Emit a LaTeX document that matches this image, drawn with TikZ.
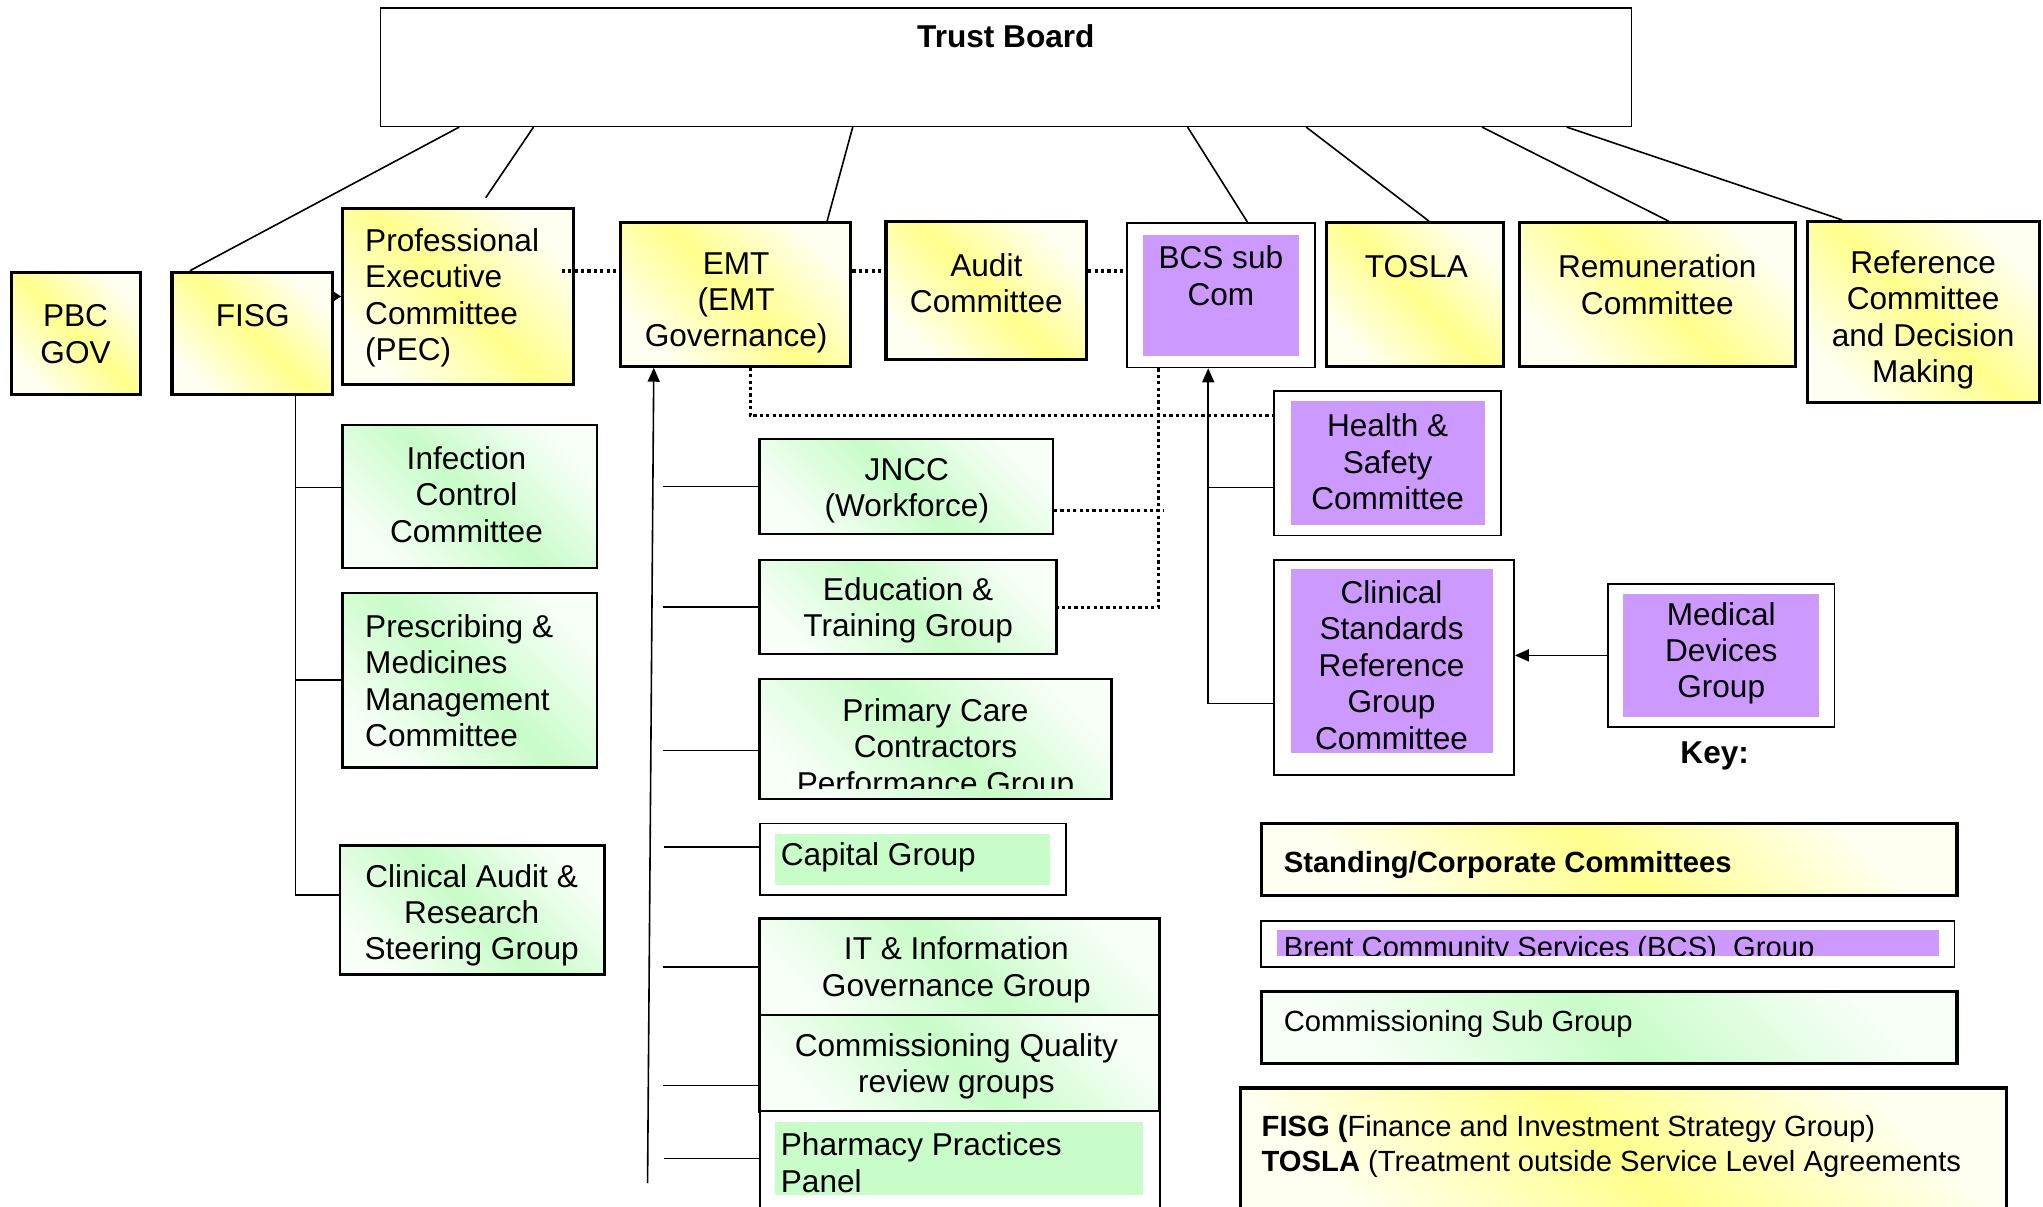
\documentclass[tikz,border=0pt]{standalone}
\usepackage{fontspec}
\setmainfont{Liberation Sans}
\usetikzlibrary{fit,calc,arrows.meta}
\definecolor{ylw}{HTML}{FFFF8C}
\definecolor{grn}{HTML}{C8FCC8}
\definecolor{prp}{HTML}{CC99FF}
\begin{document}
\begin{tikzpicture}[x=0.6515pt,y=-0.6515pt,
  ybox/.style={draw, line width=1.6pt, top color=ylw!12, bottom color=ylw!12, middle color=ylw, shading angle=-45, inner sep=0pt},
  gbox/.style={draw, line width=1.2pt, top color=grn!15, bottom color=grn!15, middle color=grn, shading angle=-45, inner sep=0pt},
  wbox/.style={draw, line width=0.9pt, fill=white, inner sep=0pt},
  pfill/.style={fill=prp, inner sep=0pt},
  gfill/.style={fill=grn, inner sep=0pt},
  txt/.style={font=\fontsize{15.8}{18.2}\selectfont, align=center, inner sep=0pt, yshift=-1.6pt},
  ltxt/.style={txt, align=left},
  btxt/.style={font=\fontsize{15.8}{18.2}\selectfont\bfseries, inner sep=0pt},
  ktxt/.style={font=\fontsize{14.6}{17.2}\selectfont, align=left, inner sep=0pt, yshift=-1.8pt},
  conn/.style={line width=0.8pt},
  dots/.style={line width=1.6pt, dash pattern=on 1.6pt off 1.6pt},
  arr/.style={conn, -{Triangle[length=7pt,width=6pt]}},
]
\useasboundingbox (0,0) rectangle (1568,926);
\clip (0,0) rectangle (1568,926);

% ---------- Trust Board ----------
\node[wbox, line width=0.7pt, fit={(292,6) (1252,97)}] (board) {};
\node[btxt] (board-t) at (772,28) {Trust Board};

% ---------- top row ----------
\node[ybox, fit={(9,209) (108,303)}] (pbc) {};
\node[txt] (pbc-t) at (58,254) {PBC\\GOV};
\node[ybox, fit={(132,209) (255,303)}] (fisg) {};
\node[txt] (fisg-t) at (194,240) {FISG};
\node[ybox, fit={(263,160) (440,295)}] (pec) {};
\node[ltxt, anchor=west] (pec-t) at (280,226) {Professional\\Executive\\Committee\\(PEC)};
\node[ybox, fit={(476,171) (653,281)}] (emt) {};
\node[txt] (emt-t) at (565,230) {EMT\\(EMT\\Governance)};
\node[ybox, fit={(680,170) (834,276)}] (audit) {};
\node[txt] (audit-t) at (757,215) {Audit\\Committee};
\node[wbox, fit={(865,171) (1009,282)}] (bcs) {};
\node[pfill, fit={(877,180) (997,273)}] (bcsfill) {};
\node[txt] (bcs-t) at (937,209) {BCS sub\\Com};
\node[ybox, fit={(1018,171) (1154,281)}] (tosla) {};
\node[txt] (tosla-t) at (1087,202) {TOSLA};
\node[ybox, fit={(1166,171) (1378,281)}] (remun) {};
\node[txt] (remun-t) at (1272,216) {Remuneration\\Committee};
\node[ybox, fit={(1387,170) (1565,309)}] (refc) {};
\node[txt] (refc-t) at (1476,243) {Reference\\Committee\\and Decision\\Making};

% ---------- FISG column ----------
\node[gbox, fit={(263,326) (458,436)}] (infection) {};
\node[txt] (infection-t) at (358,377) {Infection\\Control\\Committee};
\node[gbox, fit={(263,455) (458,589)}] (prescribing) {};
\node[ltxt, anchor=west] (prescribing-t) at (280,520) {Prescribing \&\\Medicines\\Management\\Committee};
\node[gbox, fit={(261,649) (464,748)}] (clinaudit) {};
\node[txt] (clinaudit-t) at (362,700) {Clinical Audit \&\\Research\\Steering Group};

% ---------- EMT column ----------
\node[gbox, fit={(583,337) (808,410)}] (jncc) {};
\node[txt] (jncc-t) at (696,374) {JNCC\\(Workforce)};
\node[gbox, fit={(583,430) (811,502)}] (edu) {};
\node[txt] (edu-t) at (697,466) {Education \&\\Training Group};
\node[gbox, fit={(583,521) (853,613)}] (primary) {};
\begin{scope}
\clip (583,521) rectangle (853,605);
\node[txt] (primary-t) at (718,573) {Primary Care\\Contractors\\Performance Group};
\end{scope}
\node[wbox, fit={(583,632) (818,687)}] (capital) {};
\node[gfill, fit={(595,640) (806,679)}] (capitalfill) {};
\node[txt, anchor=base west] (capital-t) at (599,662) {Capital Group};
\node[gbox, fit={(583,705) (890,779)}] (itg) {};
\node[txt] (itg-t) at (734,742) {IT \& Information\\Governance Group};
\node[gbox, fit={(583,779) (890,853)}] (commq) {};
\node[txt] (commq-t) at (734,816) {Commissioning Quality\\review groups};
\node[wbox, fit={(583,853) (890,940)}] (pharm) {};
\node[gfill, fit={(595,861) (877,917)}] (pharmfill) {};
\node[ltxt, anchor=west] (pharm-t) at (599,890) {Pharmacy Practices\\Panel};

% ---------- BCS column ----------
\node[wbox, fit={(978,300) (1152,411)}] (hs) {};
\node[pfill, fit={(991,308) (1140,403)}] (hsfill) {};
\node[txt] (hs-t) at (1065,352) {Health \&\\Safety\\Committee};
\node[wbox, fit={(978,430) (1162,595)}] (clinstd) {};
\node[pfill, fit={(991,437) (1146,578)}] (clinstdfill) {};
\node[txt] (clinstd-t) at (1068,508) {Clinical\\Standards\\Reference\\Group\\Committee};
\node[wbox, fit={(1234,448) (1408,558)}] (meddev) {};
\node[pfill, fit={(1246,456) (1396,550)}] (meddevfill) {};
\node[txt] (meddev-t) at (1321,499) {Medical\\Devices\\Group};
\node[btxt] (key) at (1316,580) {Key:};

% ---------- key ----------
\node[ybox, fit={(968,632) (1502,687)}] (kstand) {};
\node[ktxt, font=\fontsize{14.6}{17.2}\selectfont\bfseries, anchor=west] (kstand-t) at (985,661) {Standing/Corporate Committees};
\node[wbox, fit={(968,707) (1500,742)}] (kbcs) {};
\node[pfill, fit={(980,714) (1488,733.5)}] (kbcsfill) {};
\begin{scope}
\clip (980,710) rectangle (1488,733.5);
\node[ktxt, yshift=1.8pt, anchor=base west] (kbcs-t) at (985,735) {Brent Community Services (BCS)\ \ Group};
\end{scope}
\node[gbox, line width=1.6pt, fit={(968,761) (1502,816)}] (kcomm) {};
\node[ktxt, anchor=west] (kcomm-t) at (985,783) {Commissioning Sub Group};
\node[ybox, fit={(952,835) (1540,945)}] (kfisg) {};
\node[ktxt, anchor=west] (kfisg-t) at (968,877) {\textbf{FISG (}Finance and Investment Strategy Group)\\\textbf{TOSLA} (Treatment outside Service Level Agreements};

% ---------- Trust Board links ----------
\coordinate (pecfree) at ($(pec.north west)+(111,-7)$);
\draw[conn] ($(board.south west)+(61,0)$) -- ($(fisg.north west)+(15,0)$);
\draw[conn] ($(board.south west)+(118,0)$) -- (pecfree);
\draw[conn] ($(board.south west)+(363,0)$) -- ($(emt.north west)+(160,0)$);
\draw[conn] ($(board.south west)+(620,0)$) -- ($(bcs.north west)+(93,0)$);
\draw[conn] ($(board.south west)+(711,0)$) -- ($(tosla.north west)+(80,0)$);
\draw[conn] ($(board.south west)+(846,0)$) -- ($(remun.north west)+(116,0)$);
\draw[conn] ($(board.south west)+(911,0)$) -- ($(refc.north west)+(28,0)$);

% FISG -> PEC
\draw[conn, -{Triangle[length=4pt,width=5pt]}] (fisg.east |- pec.west) -- (pec.west);

% FISG tree
\coordinate (fv) at ($(fisg.south west)+(96,0)$);
\coordinate (infin) at ($(infection.west)+(0,-7)$);
\coordinate (caain) at ($(clinaudit.west)+(0,-11.5)$);
\draw[conn] (fv) |- (caain);
\draw[conn] (fv |- infin) -- (infin);
\draw[conn] (fv |- prescribing.west) -- (prescribing.west);

% EMT tree
\coordinate (ev) at (497,908);
\draw[arr] (ev) -- ($(emt.south west)+(27,0)$);
\foreach \n/\dy in {jncc/0, edu/0, primary/9, capital/-9.5, itg/0, commq/17, pharm/-7.5}
  \draw[conn] ($(\n.west)+(-73,\dy)$) -- ($(\n.west)+(0,\dy)$);

% BCS tree
\coordinate (bv) at ($(bcs.south west)+(63,0)$);
\coordinate (hsin) at ($(hs.west)+(0,18.5)$);
\coordinate (csin) at ($(clinstd.west)+(0,27.5)$);
\draw[arr] (csin) -| (bv);
\draw[conn] (bv |- hsin) -- (hsin);
\draw[arr] (meddev.west) -- (clinstd.east |- meddev.west);

% dotted links
\coordinate (dl) at ($(pec.east)+(-10,-19.5)$);
\draw[dots] (dl) -- (emt.west |- dl);
\draw[dots] (emt.east |- dl) -- (audit.west |- dl);
\draw[dots] (audit.east |- dl) -- (bcs.west |- dl);
\coordinate (hsd) at ($(hs.west)+(0,-36.5)$);
\draw[dots] ($(emt.south west)+(101,0)$) |- (hsd);
\draw[dots] ($(bcs.south west)+(25,0)$) |- (edu.east);
\coordinate (jf) at ($(jncc.east)+(84,18.5)$);
\draw[dots] ($(jncc.east)+(0,18.5)$) -- (jf);
\end{tikzpicture}
\end{document}
